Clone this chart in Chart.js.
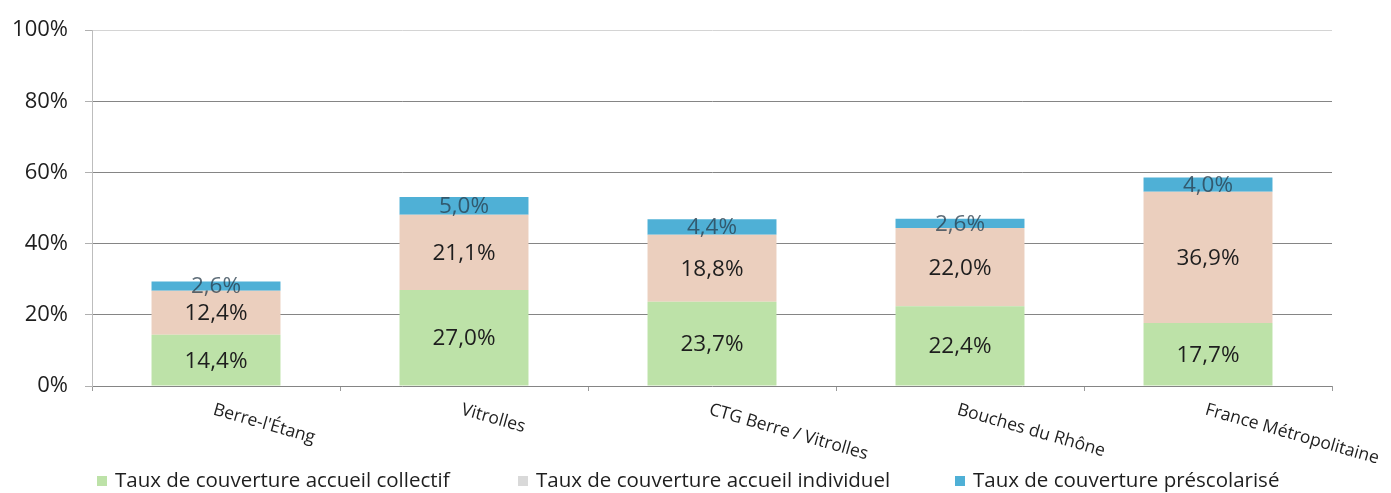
<!DOCTYPE html>
<html>
<head>
<meta charset="utf-8">
<script src="https://cdn.jsdelivr.net/npm/chart.js@4.4.1/dist/chart.umd.min.js"></script>
<style>
  html, body { margin: 0; padding: 0; background: #fff; }
  #wrap { width: 1391px; height: 493px; }
</style>
</head>
<body>
<div id="wrap"><canvas id="graficoTaux" width="1391" height="493"></canvas></div>
<script>
// territoires
var categories = ["Berre-l'Étang", 'Vitrolles', 'CTG Berre / Vitrolles', 'Bouches du Rhône', 'France Métropolitaine'];

// taux de couverture (%)
var collectif   = [14.4, 27.0, 23.7, 22.4, 17.7];
var individuel  = [12.4, 21.1, 18.8, 22.0, 36.9];
var prescolarise = [2.6, 5.0, 4.4, 2.6, 4.0];

var serieNames = ['Taux de couverture accueil collectif', 'Taux de couverture accueil individuel', 'Taux de couverture préscolarisé'];
var yTicks = [0, 20, 40, 60, 80, 100];

var FONT = "'Open Sans', sans-serif";

function pct(v) {
    return v.toFixed(1).replace('.', ',') + '%';
}

/* ---------------- etiquettes des segments ---------------- */
var valeursPlugin = {
    id: 'valeurs',
    afterDatasetsDraw: function (chart) {
        var ctx = chart.ctx;
        ctx.save();
        ctx.font = '22.5px ' + FONT;
        ctx.textAlign = 'center';
        ctx.textBaseline = 'middle';
        chart.data.datasets.forEach(function (ds, d) {
            var meta = chart.getDatasetMeta(d);
            ctx.fillStyle = d === 2 ? 'rgba(40,60,75,0.75)' : '#1e1e1e';
            meta.data.forEach(function (bar, i) {
                var y = (bar.y + bar.base) / 2;
                ctx.fillText(pct(ds.data[i]), bar.x, y + 1);
            });
        });
        ctx.restore();
    }
};

/* ---------------- noms des territoires (inclines) ---------------- */
var territoiresPlugin = {
    id: 'territoires',
    afterDraw: function (chart) {
        var ctx = chart.ctx;
        var xs = chart.scales.x;
        ctx.save();
        ctx.font = '17.5px ' + FONT;
        ctx.fillStyle = '#1e1e1e';
        ctx.textAlign = 'left';
        ctx.textBaseline = 'top';
        categories.forEach(function (c, i) {
            ctx.save();
            ctx.translate(xs.getPixelForValue(i), chart.chartArea.bottom + 15);
            ctx.rotate(16 * Math.PI / 180);
            ctx.fillText(c, 0, 0);
            ctx.restore();
        });
        ctx.restore();
    }
};

/* ---------------- legende ---------------- */
var legendePlugin = {
    id: 'legende',
    afterDraw: function (chart) {
        var ctx = chart.ctx;
        var boxColors = ['#bde2a8', '#d9d9d9', '#4fb0d6'];
        var xs = [97, 518, 955];
        var y = 481;
        ctx.save();
        ctx.font = '20.5px ' + FONT;
        ctx.textBaseline = 'middle';
        ctx.textAlign = 'left';
        serieNames.forEach(function (n, i) {
            ctx.fillStyle = boxColors[i];
            ctx.fillRect(xs[i], y - 5, 10, 10);
            ctx.fillStyle = '#1e1e1e';
            ctx.fillText(n, xs[i] + 18, y);
        });
        ctx.restore();
    }
};

var ctx = document.getElementById('graficoTaux').getContext('2d');
var graficoTaux = new Chart(ctx, {
    type: 'bar',
    data: {
        labels: categories,
        datasets: [{
            label: serieNames[0],
            data: collectif,
            backgroundColor: '#bde2a8'
        }, {
            label: serieNames[1],
            data: individuel,
            backgroundColor: '#ebcfbe'
        }, {
            label: serieNames[2],
            data: prescolarise,
            backgroundColor: '#4fb0d6'
        }]
    },
    options: {
        responsive: false,
        animation: false,
        layout: { padding: { left: 0, right: 59, top: 25, bottom: 0 } },
        datasets: { bar: { categoryPercentage: 1, barPercentage: 0.52 } },
        plugins: {
            legend: { display: false },
            tooltip: { enabled: false }
        },
        scales: {
            x: {
                stacked: true,
                ticks: { display: false },
                grid: { drawOnChartArea: false, tickLength: 5, color: '#9a9a9a' },
                border: { display: false },
                afterFit: function (scale) { scale.height = 107; }
            },
            y: {
                stacked: true,
                min: 0,
                max: 100,
                afterBuildTicks: function (scale) {
                    scale.ticks = yTicks.map(function (v) { return { value: v }; });
                },
                ticks: {
                    padding: 17,
                    color: '#1e1e1e',
                    font: { family: FONT, size: 22 },
                    callback: function (v) { return v + '%'; }
                },
                grid: {
                    tickLength: 7,
                    lineWidth: 1,
                    color: function (c) {
                        if (c.tick && c.tick.value === 100) return '#d4d4d4';
                        return '#858585';
                    },
                    tickColor: '#b0b0b0'
                },
                border: { display: true, color: '#bdbdbd' },
                afterFit: function (scale) { scale.width = 92; }
            }
        }
    },
    plugins: [valeursPlugin, territoiresPlugin, legendePlugin]
});
</script>
</body>
</html>
